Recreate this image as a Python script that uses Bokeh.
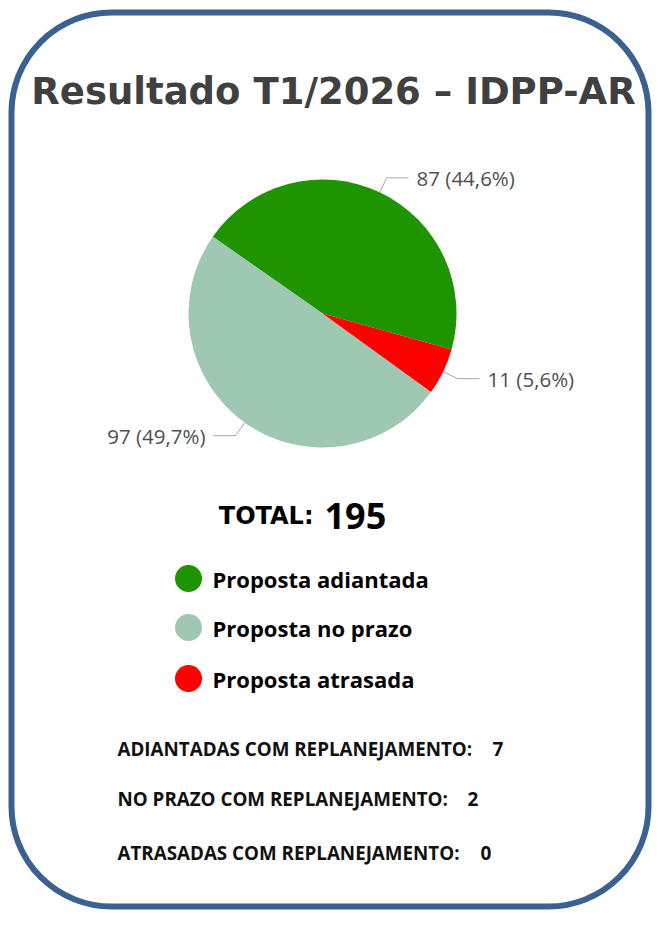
import math
from bokeh.plotting import figure
from bokeh.models import Range1d, BoxAnnotation, ColumnDataSource
from bokeh.core.properties import value
from bokeh.embed import file_html
from bokeh.resources import INLINE

# ---------------- data ----------------
title_text = "Resultado T1/2026 – IDPP-AR"
categories = ["Proposta adiantada", "Proposta no prazo", "Proposta atrasada"]
counts = [87, 97, 11]
replan_labels = ["ADIANTADAS COM REPLANEJAMENTO:",
                 "NO PRAZO COM REPLANEJAMENTO:",
                 "ATRASADAS COM REPLANEJAMENTO:"]
replan_values = [7, 2, 0]

# ---------------- style / layout ----------------
colors = ["#1F9401", "#9FC8B3", "#FF0000"]
W, H = 652, 910


def X(px):
    return px


def Y(py):
    return H - py


p = figure(width=W, height=H, x_range=Range1d(0, W), y_range=Range1d(0, H),
           output_backend="svg", toolbar_location=None,
           x_axis_location=None, y_axis_location=None, min_border=0)
p.grid.visible = False
p.outline_line_color = None
p.background_fill_color = "white"
p.border_fill_color = "white"

# rounded frame
p.add_layout(BoxAnnotation(left=X(11), right=X(648), top=Y(12), bottom=Y(906),
                           fill_alpha=0, line_color="#3A6190", line_alpha=1.0,
                           line_width=6, border_radius=100))

# title
p.text(x=[X(333)], y=[Y(91)], text=[title_text], text_align="center",
       text_baseline="middle", text_font=value("DejaVu Sans"),
       text_font_style="bold", text_font_size="37px", text_color="#404040")

# pie (drawn anticlockwise in legend order)
total = sum(counts)
cx, cy, R = X(322), Y(313), 134
a = math.radians(-15.6)
starts, ends, mids = [], [], []
for v in counts:
    span = v / total * 2 * math.pi
    starts.append(a)
    ends.append(a + span)
    mids.append(a + span / 2)
    a += span
src = ColumnDataSource(dict(start=starts, end=ends, color=colors))
p.wedge(x=cx, y=cy, radius=R, start_angle="start", end_angle="end",
        fill_color="color", line_color=None, source=src)

# leader lines and labels
lx, ly, tx, ty, tt, ta = [], [], [], [], [], []
for v, m in zip(counts, mids):
    c, s = math.cos(m), math.sin(m)
    x1, y1 = cx + R * c, cy + R * s
    x2, y2 = cx + (R + 16) * c, cy + (R + 16) * s
    d = 1 if c >= 0 else -1
    x3 = x2 + d * 22
    lx.append([x1, x2, x3])
    ly.append([y1, y2, y2])
    tx.append(x3 + d * 8)
    ty.append(y2)
    pct = f"{v / total * 100:.1f}".replace(".", ",")
    tt.append(f"{v} ({pct}%)")
    ta.append("left" if d > 0 else "right")
p.multi_line(xs=lx, ys=ly, line_color="#A6A6A6", line_width=1)
p.text(x=tx, y=ty, text=tt, text_align=ta, text_baseline="middle",
       text_font=value("Open Sans"), text_font_size="20.5px", text_color="#505050")

# total
p.text(x=[X(313)], y=[Y(515)], text=["TOTAL:"], text_align="right",
       text_baseline="middle", text_font=value("DejaVu Sans"),
       text_font_style="bold", text_font_size="24px", text_color="#000000")
p.text(x=[X(324)], y=[Y(515)], text=[str(total)], text_align="left",
       text_baseline="middle", text_font=value("Open Sans"),
       text_font_style="bold", text_font_size="36px", text_color="#000000")

# legend
leg_y = [Y(578), Y(627), Y(678)]
p.scatter(x=[X(188)] * len(categories), y=leg_y, size=27, marker="circle",
          fill_color=colors, line_color=None)
p.text(x=[X(212)] * len(categories), y=leg_y, text=categories,
       text_align="left", text_baseline="middle", text_font=value("Open Sans"),
       text_font_style="bold", text_font_size="22px", text_color="#000000")

# replanning lines
rep_y = [Y(748), Y(798), Y(852)]
val_x = [X(492), X(467), X(480)]
p.text(x=[X(117)] * len(replan_labels), y=rep_y, text=replan_labels,
       text_align="left", text_baseline="middle", text_font=value("Open Sans"),
       text_font_style="bold", text_font_size="18.8px", text_color="#111111")
p.text(x=val_x, y=rep_y, text=[str(v) for v in replan_values],
       text_align="left", text_baseline="middle", text_font=value("Open Sans"),
       text_font_style="bold", text_font_size="19px", text_color="#111111")

open("out.html", "w").write(file_html(p, INLINE))
